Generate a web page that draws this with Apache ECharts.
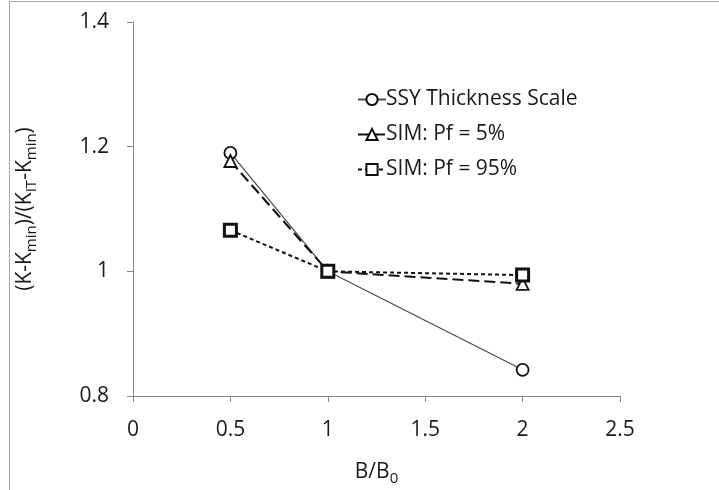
<!DOCTYPE html>
<html>
<head>
<meta charset="utf-8">
<script src="https://cdn.jsdelivr.net/npm/echarts@6/dist/echarts.min.js"></script>
<style>html,body{margin:0;padding:0;background:#fff}#c{width:719px;height:490px}</style>
</head>
<body>
<div id="c"></div>
<script>
var xValues = [0.5, 1, 2];
var ssyValues = [1.19, 1.0, 0.842];
var sim5Values = [1.177, 1.0, 0.980];
var sim95Values = [1.066, 1.0, 0.994];
var seriesNames = ['SSY Thickness Scale', 'SIM: Pf = 5%', 'SIM: Pf = 95%'];

function pairs(ys){ return xValues.map(function(x,i){return [x, ys[i]];}); }

var FONT = '"Open Sans", "Liberation Sans", sans-serif';
var TXT = '#1a1a1a';
var subStyle = {fontFamily: FONT, fontSize: 15, color: TXT, padding: [13,0,0,0]};
var chart = echarts.init(document.getElementById('c'));
chart.setOption({
  animation: false,
  backgroundColor: '#fff',
  graphic: [{
    type: 'rect', shape: {x: 9.5, y: 1.5, width: 800, height: 600},
    style: {fill: 'none', stroke: '#a6a6a6', lineWidth: 1}, silent: true
  }],
  grid: {left: 133, right: 99, top: 22, bottom: 94, outerBoundsMode: 'none', containLabel: false},
  legend: {
    orient: 'vertical', left: 352, top: 84, itemGap: 14, itemWidth: 28, itemHeight: 14,
    textStyle: {fontFamily: FONT, fontSize: 21, color: TXT, padding: [0,0,0,-5]},
    data: seriesNames
  },
  xAxis: {
    type: 'value', min: 0, max: 2.5, interval: 0.5,
    name: 'B/B{sub|0}', nameLocation: 'middle', nameGap: 62,
    nameTextStyle: {fontFamily: FONT, fontSize: 21, color: TXT, rich: {sub: subStyle}},
    axisLine: {lineStyle: {color: '#868686', width: 1}},
    axisTick: {show: true, inside: false, length: 6, lineStyle: {color: '#868686'}},
    axisLabel: {fontFamily: FONT, fontSize: 21, color: TXT, margin: 24},
    splitLine: {show: false}
  },
  yAxis: {
    type: 'value', min: 0.8, max: 1.4, interval: 0.2,
    name: '(K-K{sub|min})/(K{sub|IT}-K{sub|min})', nameLocation: 'middle', nameGap: 94, nameRotate: 90,
    nameTextStyle: {fontFamily: FONT, fontSize: 21, color: TXT, rich: {sub: subStyle}},
    axisLine: {show: true, lineStyle: {color: '#868686', width: 1}},
    axisTick: {show: true, inside: false, length: 6, lineStyle: {color: '#868686'}},
    axisLabel: {fontFamily: FONT, fontSize: 21, color: TXT, margin: 24,
      formatter: function(v){ return String(Math.round(v*10)/10); }},
    splitLine: {show: false}
  },
  series: [
    {
      name: seriesNames[0], type: 'line', data: pairs(ssyValues),
      symbol: 'circle', symbolSize: 12,
      lineStyle: {color: '#4a4a4a', width: 1.2, type: 'solid'},
      itemStyle: {color: '#fff', borderColor: '#111', borderWidth: 1.8}
    },
    {
      name: seriesNames[1], type: 'line', data: pairs(sim5Values),
      symbol: 'triangle', symbolSize: 12,
      lineStyle: {color: '#111', width: 2, type: [11, 5]},
      itemStyle: {color: '#fff', borderColor: '#111', borderWidth: 1.8}
    },
    {
      name: seriesNames[2], type: 'line', data: pairs(sim95Values),
      symbol: 'rect', symbolSize: 12,
      lineStyle: {color: '#111', width: 2, type: [4, 3]},
      itemStyle: {color: '#fff', borderColor: '#111', borderWidth: 3}
    }
  ]
});
</script>
</body>
</html>
